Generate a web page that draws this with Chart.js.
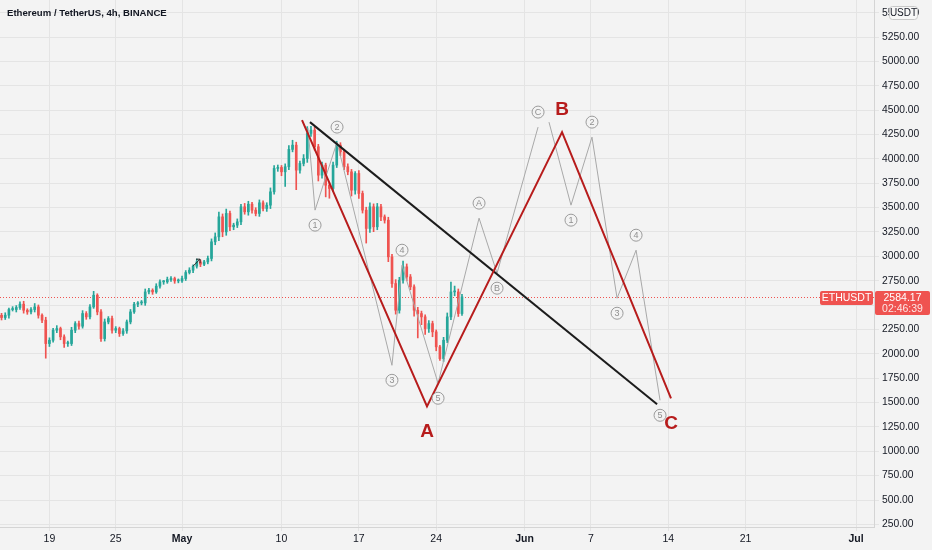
<!DOCTYPE html>
<html>
<head>
<meta charset="utf-8">
<script src="https://cdn.jsdelivr.net/npm/chart.js@4.4.0/dist/chart.umd.min.js"></script>
<style>
html, body { margin: 0; padding: 0; background: #f3f3f3; }
#wrap { width: 932px; height: 550px; }
</style>
</head>
<body>
<div id="wrap"><canvas id="ethChart" width="932" height="550"></canvas></div>
<script>
// time is in days from May 1 (00:00)
var firstCandleDay = -16.33;
var candleStep = 1 / 3;
var firstOpen = 2395;

var closes = [
    2372, 2396, 2454, 2454, 2475, 2509, 2447, 2430, 2454, 2481,
    2396, 2345, 2105, 2139, 2242, 2259, 2174, 2105, 2105, 2242,
    2310, 2283, 2413, 2379, 2481, 2601, 2430, 2156, 2327, 2362,
    2242, 2259, 2208, 2235, 2327, 2430, 2509, 2522, 2522, 2635,
    2652, 2635, 2694, 2738, 2738, 2762, 2772, 2748, 2748, 2772,
    2834, 2858, 2899, 2943, 2919, 2943, 2978, 3149, 3200, 3405,
    3251, 3440, 3303, 3320, 3354, 3508, 3457, 3535, 3474, 3440,
    3549, 3491, 3525, 3662, 3902, 3912, 3867, 3919, 4097, 4141,
    3884, 3953, 4004, 4261, 4295, 4124, 3833, 3936, 3730, 3696,
    3936, 4141, 4073, 3919, 3867, 3679, 3850, 3645, 3474, 3286,
    3508, 3303, 3508, 3405, 3371, 2995, 2721, 2447, 2755, 2892,
    2789, 2687, 2447, 2413, 2379, 2259, 2310, 2225, 2071, 1951,
    2139, 2379, 2635, 2635, 2413, 2584.17
];
var wickUp = [
    20, 25, 15, 30, 20, 25, 30, 15, 20, 35,
    20, 15, 30, 25, 20, 30, 15, 20, 25, 30,
    20, 25, 30, 20, 25, 40, 15, 25, 30, 20,
    25, 20, 15, 25, 20, 25, 20, 15, 25, 30,
    20, 15, 25, 20, 15, 25, 20, 15, 20, 25,
    20, 25, 15, 30, 20, 15, 25, 30, 40, 50,
    30, 45, 25, 20, 30, 25, 35, 30, 20, 25,
    30, 20, 25, 40, 30, 25, 20, 30, 40, 50,
    30, 25, 40, 70, 40, 30, 25, 30, 20, 25,
    30, 40, 25, 20, 30, 25, 20, 30, 25, 30,
    40, 30, 35, 25, 20, 30, 25, 40, 30, 60,
    30, 25, 20, 30, 25, 20, 30, 25, 20, 15,
    30, 40, 100, 60, 30, 25
];
var wickDown = [
    25, 20, 30, 15, 25, 20, 30, 25, 20, 25,
    30, 25, 150, 30, 20, 25, 30, 40, 30, 20,
    25, 30, 20, 25, 20, 15, 30, 30, 25, 20,
    30, 25, 30, 20, 25, 20, 15, 25, 20, 25,
    20, 25, 15, 20, 25, 15, 20, 25, 20, 15,
    20, 15, 25, 20, 25, 15, 20, 25, 30, 40,
    50, 35, 40, 30, 25, 30, 25, 35, 30, 25,
    30, 25, 30, 35, 25, 30, 40, 150, 30, 25,
    200, 30, 25, 40, 30, 35, 60, 30, 120, 100,
    30, 25, 40, 30, 30, 60, 40, 50, 30, 150,
    40, 50, 30, 40, 30, 50, 40, 40, 30, 30,
    40, 30, 60, 250, 80, 60, 40, 50, 40, 20,
    30, 25, 30, 40, 30, 20
];

var lastPrice = 2584.17;
var lastPriceTime = '02:46:39';

// date ticks (day offsets from May 1) and their labels
var tickDays = [-12, -6, 0, 9, 16, 23, 31, 37, 44, 51, 61];
var tickLabels = ['19', '25', 'May', '10', '17', '24', 'Jun', '7', '14', '21', 'Jul'];
var monthLabels = ['May', 'Jun', 'Jul'];

// drawings
var trendDays = [11.58, 42.99];
var trendPrices = [4377, 1482];

var abcDays = [10.86, 22.17, 34.39, 44.25];
var abcPrices = [4398, 1461, 4275, 1543];
var abcLabels = ['', 'A', 'B', 'C'];

var wave1Days = [11.40, 12.04, 14.03, 19.00, 19.91, 23.17, 26.88, 28.51, 32.22];
var wave1Prices = [4316, 3474, 4172, 1882, 2909, 1698, 3392, 2827, 4326];
var wave1Labels = ['', '1', '2', '3', '4', '5', 'A', 'B', 'C'];

var wave2Days = [33.21, 35.20, 37.10, 39.37, 41.09, 43.26];
var wave2Prices = [4377, 3525, 4223, 2570, 3063, 1523];
var wave2Labels = ['', '1', '2', '3', '4', '5'];

var arrowMark = { x: 1.36, y: 2940 };

var upColor = '#26a69a';
var downColor = '#ef5350';
var waveRed = '#b71c1c';

var bodies = [], wicks = [], candleUp = [];
var open = firstOpen;
for (var i = 0; i < closes.length; i++) {
    var t = firstCandleDay + i * candleStep;
    var c = closes[i];
    bodies.push({ x: t, y: [open, c] });
    wicks.push({ x: t, y: [Math.min(open, c) - wickDown[i], Math.max(open, c) + wickUp[i]] });
    candleUp.push(c >= open);
    open = c;
}

function toPoints(days, prices) {
    return days.map(function(d, k) { return { x: d, y: prices[k] }; });
}

var font = "'Liberation Sans', Arial, sans-serif";

var overlayPlugin = {
    id: 'overlay',
    beforeDatasetsDraw: function(chart) {
        var ctx = chart.ctx, y = chart.scales.y.getPixelForValue(lastPrice);
        ctx.save();
        ctx.strokeStyle = downColor;
        ctx.lineWidth = 1;
        ctx.setLineDash([1, 2]);
        ctx.beginPath();
        ctx.moveTo(0, Math.round(y) + 0.5);
        ctx.lineTo(chart.chartArea.right, Math.round(y) + 0.5);
        ctx.stroke();
        ctx.restore();
    },
    afterDatasetsDraw: function(chart) {
        var ctx = chart.ctx, xs = chart.scales.x, ys = chart.scales.y;
        ctx.save();
        function circled(days, prices, labels) {
            for (var k = 1; k < days.length; k++) {
                var px = xs.getPixelForValue(days[k]);
                var py = ys.getPixelForValue(prices[k]);
                var off = prices[k] > prices[k - 1] ? -15 : 15;
                ctx.beginPath();
                ctx.arc(px, py + off, 6, 0, Math.PI * 2);
                ctx.fillStyle = '#f3f3f3';
                ctx.fill();
                ctx.strokeStyle = '#9a9a9a';
                ctx.lineWidth = 1;
                ctx.stroke();
                ctx.fillStyle = '#8f8f8f';
                ctx.font = '9px ' + font;
                ctx.textAlign = 'center';
                ctx.textBaseline = 'middle';
                ctx.fillText(labels[k], px, py + off + 0.5);
            }
        }
        circled(wave1Days, wave1Prices, wave1Labels);
        circled(wave2Days, wave2Prices, wave2Labels);

        ctx.fillStyle = waveRed;
        ctx.font = 'bold 19px ' + font;
        ctx.textAlign = 'center';
        ctx.textBaseline = 'middle';
        for (var k = 1; k < abcDays.length; k++) {
            var px = xs.getPixelForValue(abcDays[k]);
            var py = ys.getPixelForValue(abcPrices[k]);
            var off = abcPrices[k] > abcPrices[k - 1] ? -22 : 25;
            ctx.fillText(abcLabels[k], px, py + off);
        }

        // small arrow marker
        var ax = xs.getPixelForValue(arrowMark.x), ay = ys.getPixelForValue(arrowMark.y);
        ctx.strokeStyle = '#222';
        ctx.lineWidth = 1;
        ctx.beginPath();
        ctx.moveTo(ax - 4, ay + 4);
        ctx.lineTo(ax + 3, ay - 3);
        ctx.moveTo(ax + 3, ay - 3);
        ctx.lineTo(ax - 1, ay - 3);
        ctx.moveTo(ax + 3, ay - 3);
        ctx.lineTo(ax + 3, ay + 1);
        ctx.stroke();
        ctx.restore();
    },
    afterDraw: function(chart) {
        var ctx = chart.ctx, y = chart.scales.y.getPixelForValue(lastPrice);
        ctx.save();
        ctx.fillStyle = '#131722';
        ctx.font = 'bold 9.6px ' + font;
        ctx.textAlign = 'left';
        ctx.textBaseline = 'middle';
        ctx.fillText('Ethereum / TetherUS, 4h, BINANCE', 7, 13);

        // currency badge over the top axis label
        ctx.fillStyle = '#f7f7f7';
        ctx.strokeStyle = '#c8c8c8';
        ctx.lineWidth = 1;
        ctx.beginPath();
        ctx.roundRect(889.5, 6.5, 28, 13, 3);
        ctx.fill();
        ctx.stroke();
        ctx.fillStyle = '#131722';
        ctx.font = '10px ' + font;
        ctx.textAlign = 'center';
        ctx.fillText('USDT', 903.5, 13.5);

        // last price tags
        var top = Math.round(y) - 6;
        ctx.fillStyle = downColor;
        ctx.beginPath();
        ctx.roundRect(820, top, 53, 14, 2);
        ctx.fill();
        ctx.beginPath();
        ctx.roundRect(875, top, 55, 24, 2);
        ctx.fill();
        ctx.fillStyle = '#ffffff';
        ctx.font = '10.5px ' + font;
        ctx.fillText('ETHUSDT', 846.5, top + 7.5);
        ctx.fillText(lastPrice.toFixed(2), 902.5, top + 7);
        ctx.fillStyle = 'rgba(255,255,255,0.85)';
        ctx.fillText(lastPriceTime, 902.5, top + 18);
        ctx.restore();
    }
};

var ctx = document.getElementById('ethChart').getContext('2d');
var ethChart = new Chart(ctx, {
    type: 'bar',
    data: {
        datasets: [
            {
                type: 'line',
                data: toPoints(abcDays, abcPrices),
                borderColor: waveRed,
                borderWidth: 2,
                pointRadius: 0,
                order: 0
            },
            {
                type: 'line',
                data: toPoints(trendDays, trendPrices),
                borderColor: '#1c1c1c',
                borderWidth: 2,
                pointRadius: 0,
                order: 1
            },
            {
                type: 'line',
                data: toPoints(wave1Days, wave1Prices),
                borderColor: '#a8a8a8',
                borderWidth: 1,
                pointRadius: 0,
                order: 2
            },
            {
                type: 'line',
                data: toPoints(wave2Days, wave2Prices),
                borderColor: '#a8a8a8',
                borderWidth: 1,
                pointRadius: 0,
                order: 2
            },
            {
                data: bodies,
                backgroundColor: function(c) { return candleUp[c.dataIndex] ? upColor : downColor; },
                barThickness: 2,
                minBarLength: 1,
                grouped: false,
                order: 5
            },
            {
                data: wicks,
                backgroundColor: function(c) { return candleUp[c.dataIndex] ? upColor : downColor; },
                barThickness: 1,
                grouped: false,
                order: 6
            }
        ]
    },
    options: {
        responsive: false,
        animation: false,
        layout: { padding: 0 },
        plugins: { legend: { display: false }, tooltip: { enabled: false } },
        scales: {
            x: {
                type: 'linear',
                min: -16.47,
                max: 62.62,
                offset: false,
                afterBuildTicks: function(axis) {
                    axis.ticks = tickDays.map(function(d) { return { value: d }; });
                },
                afterFit: function(axis) {
                    axis.height = 23;
                    axis.paddingLeft = 0;
                    axis.paddingRight = 0;
                },
                grid: { color: '#e4e4e4', offset: false, tickLength: 4 },
                border: { color: '#d4d4d4' },
                ticks: {
                    padding: 2,
                    maxRotation: 0,
                    autoSkip: false,
                    color: '#131722',
                    font: function(c) {
                        var lab = c.tick ? tickLabels[tickDays.indexOf(c.tick.value)] : '';
                        return { family: font, size: 10.5, weight: monthLabels.indexOf(lab) >= 0 ? 'bold' : 'normal' };
                    },
                    callback: function(v) { return tickLabels[tickDays.indexOf(v)]; }
                }
            },
            y: {
                type: 'linear',
                position: 'right',
                min: 223,
                max: 5630,
                afterBuildTicks: function(axis) {
                    var t = [];
                    for (var v = 250; v <= 5500; v += 250) t.push({ value: v });
                    axis.ticks = t;
                },
                afterFit: function(axis) {
                    axis.width = 58;
                    axis.paddingTop = 0;
                    axis.paddingBottom = 0;
                },
                grid: { color: '#e4e4e4', tickLength: 5 },
                border: { color: '#d4d4d4' },
                ticks: {
                    padding: 3,
                    color: '#131722',
                    font: { family: font, size: 10.3 },
                    callback: function(v) { return v.toFixed(2); }
                }
            }
        }
    },
    plugins: [overlayPlugin]
});
</script>
</body>
</html>
